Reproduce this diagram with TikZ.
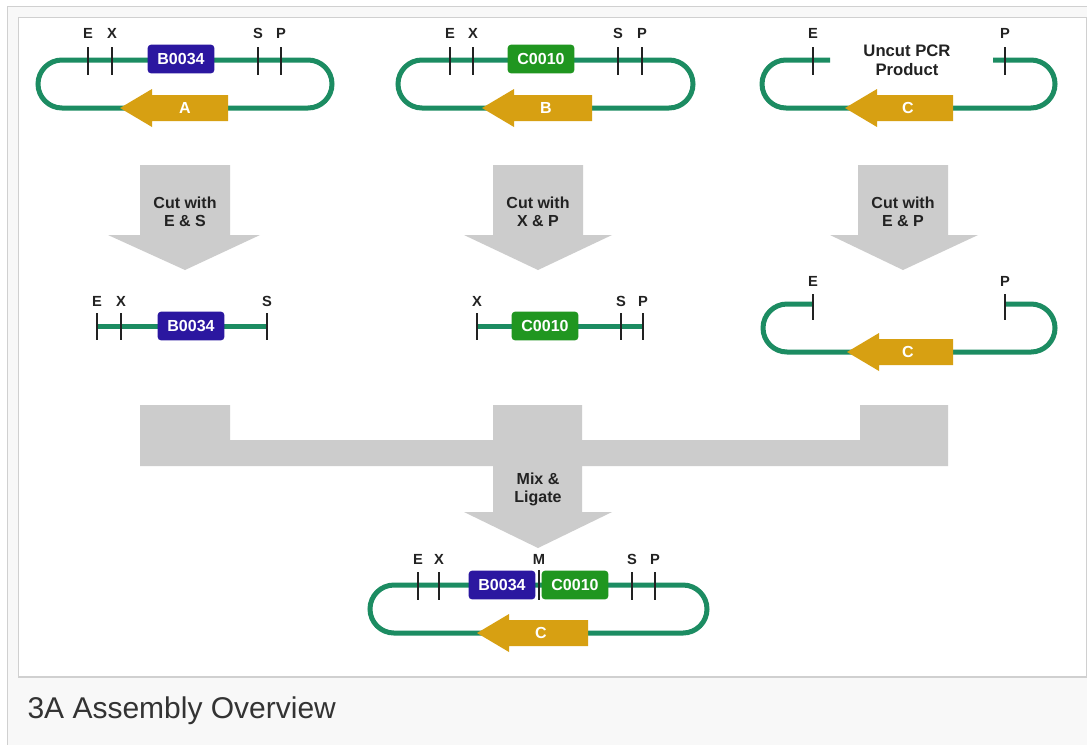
\documentclass[tikz,border=0pt]{standalone}
\usepackage{fontspec}
\setmainfont{Liberation Sans}

\definecolor{dnagreen}{RGB}{28,140,98}
\definecolor{rbsblue}{RGB}{43,23,160}
\definecolor{termgreen}{RGB}{32,150,32}
\definecolor{cdsgold}{RGB}{215,160,18}
\definecolor{flowgray}{RGB}{204,204,204}
\definecolor{inkgray}{RGB}{34,34,34}
\definecolor{framegray}{RGB}{208,208,208}
\definecolor{pagegray}{RGB}{248,248,248}

\tikzset{every picture/.style={line width=0.75pt}}
\tikzset{
  backbone/.style={draw=dnagreen, line width=3.75pt, rounded corners=18pt},
  site/.style={draw=inkgray, line width=1.5pt},
  sitelbl/.style={text=inkgray, inner sep=0.75pt, font=\bfseries\fontsize{11}{12}\selectfont},
  partbox/.style={rounded corners=2.5pt, minimum width=50pt, minimum height=21.5pt, inner sep=0pt, text=white, font=\bfseries\fontsize{12}{13}\selectfont},
  rbs/.style={partbox, fill=rbsblue},
  term/.style={partbox, fill=termgreen},
  cds/.style={fill=cdsgold},
  cdslbl/.style={text=white, inner sep=0.75pt, font=\bfseries\fontsize{12}{13}\selectfont},
  flow/.style={fill=flowgray},
  flowlbl/.style={align=center, text=inkgray, inner sep=0.75pt, font=\bfseries\fontsize{12}{13.5}\selectfont},
}

\begin{document}
\begin{tikzpicture}[x=0.75pt,y=0.75pt,yscale=-1,xscale=1]
\useasboundingbox (0,0) rectangle (1087,744);
\clip (0,0) rectangle (1087,744);

%Frame
\fill [white] (0,0) rectangle (1087,744);
\draw [draw=framegray, fill=pagegray] (7.5,6.5) rectangle (1100,760);
\draw [draw=framegray, fill=white] (18,17.5) rectangle (1086,677);
\draw [draw=framegray, line width=1.5pt] (18,677) -- (1086,677);

%Plasmid A
\draw [backbone] (38,60) rectangle (332,108);
\draw [site] (88,47) -- (88,75);
\draw [site] (112,47) -- (112,75);
\draw [site] (258,47) -- (258,75);
\draw [site] (281,47) -- (281,75);
\node [rbs] (rbsA) at (181,59) {B0034};
\fill [cds] (228,95) -- (152,95) -- (152,89) -- (120,108) -- (152,127) -- (152,121) -- (228,121) -- cycle;
% Text Node
\node [cdslbl] (cdsA) at (185,108) {A};
\node [sitelbl] (eA) at (88,33) {E};
\node [sitelbl] (xA) at (112,33) {X};
\node [sitelbl] (sA) at (258,33) {S};
\node [sitelbl] (pA) at (281,33) {P};

%Plasmid B
\draw [backbone] (398,60) rectangle (693,108);
\draw [site] (450,47) -- (450,75);
\draw [site] (473,47) -- (473,75);
\draw [site] (618,47) -- (618,75);
\draw [site] (642,47) -- (642,75);
\node [term] (termB) at (541,59) {C0010};
\fill [cds] (592,95) -- (514,95) -- (514,89) -- (482,108) -- (514,127) -- (514,121) -- (592,121) -- cycle;
% Text Node
\node [cdslbl] (cdsB) at (546,108) {B};
\node [sitelbl] (eB) at (450,33) {E};
\node [sitelbl] (xB) at (473,33) {X};
\node [sitelbl] (sB) at (618,33) {S};
\node [sitelbl] (pB) at (642,33) {P};

%Uncut PCR product C
\draw [backbone] (830,60) -- (762,60) -- (762,108) -- (1055,108) -- (1055,60) -- (993,60);
\draw [site] (813,47) -- (813,75);
\draw [site] (1005,47) -- (1005,75);
\fill [cds] (953,95) -- (877,95) -- (877,89) -- (845,108) -- (877,127) -- (877,121) -- (953,121) -- cycle;
% Text Node
\node [cdslbl] (cdsC) at (908,108) {C};
\node [sitelbl] (eC) at (813,33) {E};
\node [sitelbl] (pC) at (1005,33) {P};
\node [flowlbl, font=\fontsize{12.5}{14}\selectfont\bfseries] (pcr) at (907,60) {Uncut PCR\\Product};

%Cut arrows
\fill [flow] (140,165) -- (230,165) -- (230,235) -- (260,235) -- (185,270) -- (108,235) -- (140,235) -- cycle;
\fill [flow] (493,165) -- (583,165) -- (583,235) -- (612,235) -- (538,270) -- (464,235) -- (493,235) -- cycle;
\fill [flow] (858,165) -- (948,165) -- (948,235) -- (978,235) -- (903,270) -- (830,235) -- (858,235) -- cycle;
% Text Node
\node [flowlbl] (cutA) at (185,212) {Cut with\\E \& S};
\node [flowlbl] (cutB) at (538,212) {Cut with\\X \& P};
\node [flowlbl] (cutC) at (903,212) {Cut with\\E \& P};

%Fragment A
\draw [draw=dnagreen, line width=3.75pt] (97,326) -- (267,326);
\draw [site] (97,313) -- (97,340);
\draw [site] (121,313) -- (121,340);
\draw [site] (267,313) -- (267,340);
\node [rbs] (rbsA2) at (191,326) {B0034};
% Text Node
\node [sitelbl] (eA2) at (97,301) {E};
\node [sitelbl] (xA2) at (121,301) {X};
\node [sitelbl] (sA2) at (267,301) {S};

%Fragment B
\draw [draw=dnagreen, line width=3.75pt] (477,326) -- (643,326);
\draw [site] (477,313) -- (477,340);
\draw [site] (621,313) -- (621,340);
\draw [site] (643,313) -- (643,340);
\node [term] (termB2) at (545,326) {C0010};
% Text Node
\node [sitelbl] (xB2) at (477,301) {X};
\node [sitelbl] (sB2) at (621,301) {S};
\node [sitelbl] (pB2) at (643,301) {P};

%Cut vector C
\draw [backbone] (813,304) -- (763,304) -- (763,352) -- (1055,352) -- (1055,304) -- (1005,304);
\draw [site] (813,294) -- (813,320);
\draw [site] (1005,294) -- (1005,320);
\fill [cds] (953,339) -- (879,339) -- (879,333) -- (847,352) -- (879,371) -- (879,365) -- (953,365) -- cycle;
% Text Node
\node [cdslbl] (cdsC2) at (908,352) {C};
\node [sitelbl] (eC2) at (813,281) {E};
\node [sitelbl] (pC2) at (1005,281) {P};

%Mix and ligate
\fill [flow] (140,405) -- (230,405) -- (230,440) -- (493,440) -- (493,405) -- (582,405) -- (582,440) -- (860,440) -- (860,405) -- (948,405) -- (948,466) -- (582,466) -- (582,512) -- (612,512) -- (538,548) -- (464,512) -- (493,512) -- (493,466) -- (140,466) -- cycle;
% Text Node
\node [flowlbl] (ligate) at (538,489) {Mix \&\\Ligate};

%Composite plasmid
\draw [backbone] (370,585) rectangle (707,633);
\draw [site] (418,572) -- (418,600);
\draw [site] (439,572) -- (439,600);
\draw [site] (632,572) -- (632,600);
\draw [site] (655,572) -- (655,600);
\draw [site, line width=1pt] (539,570) -- (539,600);
\node [rbs] (rbsM) at (502,585) {B0034};
\node [term] (termM) at (575,585) {C0010};
\fill [cds] (588,620) -- (509,620) -- (509,614) -- (477,633) -- (509,652) -- (509,646) -- (588,646) -- cycle;
% Text Node
\node [cdslbl] (cdsM) at (541,633) {C};
\node [sitelbl] (eM) at (418,559) {E};
\node [sitelbl] (xM) at (439,559) {X};
\node [sitelbl] (mM) at (539,559) {M};
\node [sitelbl] (sM) at (632,559) {S};
\node [sitelbl] (pM) at (655,559) {P};

%Caption
\node [anchor=west, inner sep=0pt, text={rgb,255:red,51;green,51;blue,51}, font=\fontsize{22.5}{25}\selectfont] (caption) at (27,711) {3A Assembly Overview};
\end{tikzpicture}
\end{document}
